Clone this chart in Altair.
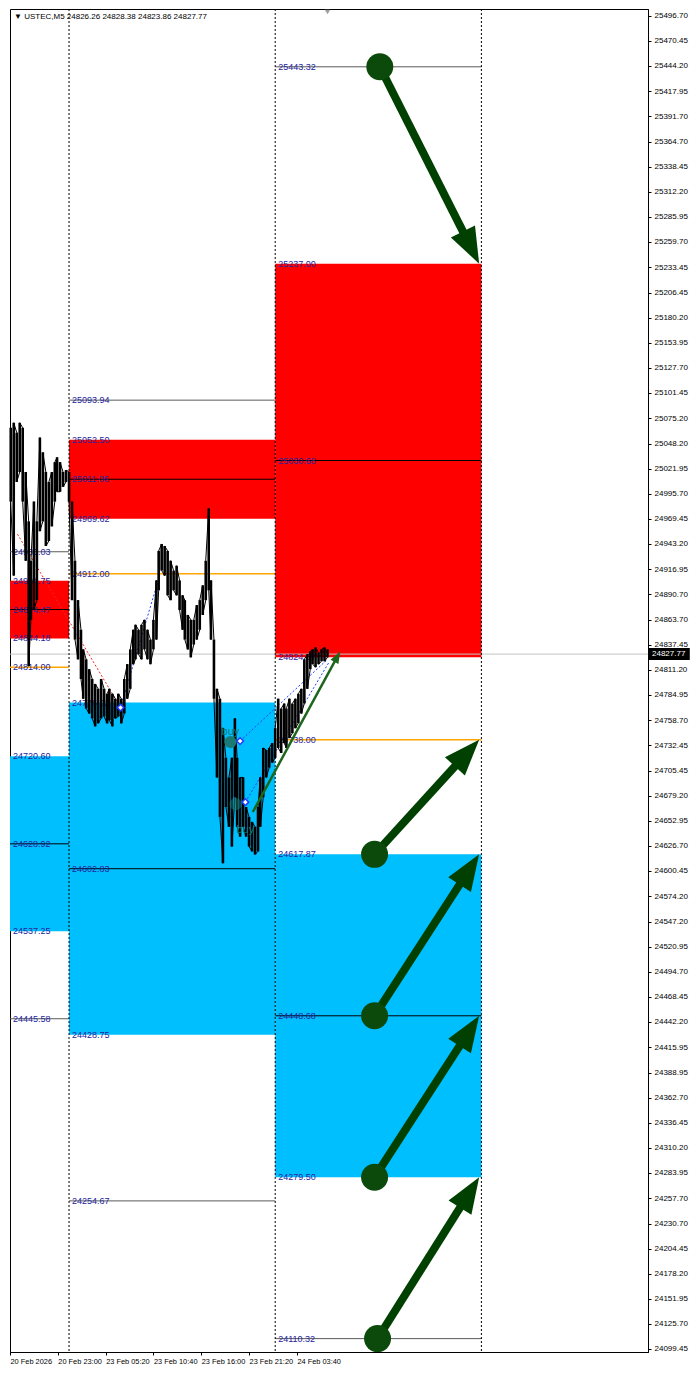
import math
import pandas as pd
import altair as alt

FONT = "Liberation Sans"

# ---------------- data ----------------
title_text = "\u25bc USTEC,M5  24826.26 24828.38 24823.86 24827.77"

x_tick_bars = [0, 64, 128, 192, 256, 320, 384]
x_tick_labels = ["20 Feb 2026", "20 Feb 23:00", "23 Feb 05:20", "23 Feb 10:40",
                 "23 Feb 16:00", "23 Feb 21:20", "24 Feb 03:40"]

y_ticks = [25496.70, 25470.45, 25444.20, 25417.95, 25391.70, 25364.70, 25338.45, 25312.20,
           25285.95, 25259.70, 25233.45, 25206.45, 25180.20, 25153.95, 25127.70, 25101.45,
           25075.20, 25048.20, 25021.95, 24995.70, 24969.45, 24943.20, 24916.95, 24890.70,
           24863.70, 24837.45, 24811.20, 24784.95, 24758.70, 24732.45, 24705.45, 24679.20,
           24652.95, 24626.70, 24600.45, 24574.20, 24547.20, 24520.95, 24494.70, 24468.45,
           24442.20, 24415.95, 24388.95, 24362.70, 24336.45, 24310.20, 24283.95, 24257.70,
           24230.70, 24204.45, 24178.20, 24151.95, 24125.70, 24099.45]

separator_bars = [79, 355, 631]
current_price = 24827.77
last_bar = 425

price_bar = [1, 5, 9, 13, 17, 21, 25, 28, 32, 36, 40, 44, 48, 52, 56, 60, 63, 67, 71, 75,
             79, 83, 87, 91, 95, 98, 102, 106, 110, 114, 118, 122, 126, 130, 133, 137, 141, 145,
             149, 153, 157, 161, 165, 168, 172, 176, 180, 184, 188, 192, 196, 199, 203, 207,
             211, 215, 219, 223, 227, 231, 234, 238, 242, 246, 250, 254, 258, 262, 266, 269,
             273, 277, 281, 285, 289, 293, 297, 301, 304, 308, 312, 316, 320, 324, 328, 332,
             335, 339, 343, 347, 351, 355, 359, 363, 367, 370, 374, 378, 382, 386, 390, 394,
             398, 402, 405, 409, 413, 417, 421, 425]
price_high = [25065.0, 25070.2, 25059.9, 25070.2, 25065.0, 25018.6, 24966.9, 24925.6, 24987.6, 24966.9,
              25054.7, 25039.2, 25018.6, 25008.2, 25018.6, 25028.9, 25034.0, 25028.9, 25018.6, 25020.6,
              25018.6, 24987.6, 24925.6, 24884.3, 24853.3, 24832.7, 24822.3, 24812.0, 24801.7, 24796.5,
              24791.4, 24801.7, 24791.4, 24786.2, 24791.4, 24786.2, 24781.0, 24786.2, 24781.0, 24801.7,
              24817.2, 24832.7, 24853.3, 24858.5, 24853.3, 24858.5, 24863.7, 24853.3, 24843.0, 24863.7,
              24905.0, 24935.9, 24943.2, 24941.1, 24935.9, 24925.6, 24915.3, 24920.4, 24905.0, 24889.4,
              24884.3, 24868.8, 24863.7, 24863.7, 24879.1, 24884.3, 24899.8, 24925.6, 24980.4, 24905.0,
              24843.0, 24791.4, 24781.0, 24750.1, 24719.1, 24698.5, 24719.1, 24760.4, 24719.1, 24698.5,
              24698.5, 24667.5, 24657.1, 24651.9, 24646.8, 24667.5, 24698.5, 24729.4, 24727.3, 24729.4,
              24734.5, 24750.1, 24781.0, 24770.7, 24775.9, 24770.7, 24781.0, 24775.9, 24781.0, 24786.2,
              24791.4, 24822.3, 24827.5, 24830.6, 24832.7, 24834.7, 24829.5, 24832.7, 24834.7, 24832.7]
price_low = [24987.6, 24910.1, 25008.2, 25018.6, 24987.6, 24925.6, 24815.1, 24863.7, 24874.0, 24884.3,
             24956.6, 24966.9, 24941.1, 24946.3, 24961.7, 24987.6, 24997.9, 24997.9, 25003.1, 25008.2,
             24987.6, 24884.3, 24843.0, 24822.3, 24801.7, 24781.0, 24770.7, 24765.5, 24760.4, 24752.1,
             24755.2, 24760.4, 24762.4, 24755.2, 24758.3, 24752.1, 24760.4, 24762.4, 24755.2, 24765.5,
             24781.0, 24791.4, 24817.2, 24822.3, 24827.5, 24822.3, 24832.7, 24822.3, 24817.2, 24832.7,
             24843.0, 24894.6, 24915.3, 24910.1, 24889.4, 24884.3, 24894.6, 24889.4, 24874.0, 24853.3,
             24843.0, 24832.7, 24824.4, 24837.8, 24843.0, 24853.3, 24868.8, 24884.3, 24894.6, 24843.0,
             24781.0, 24698.5, 24657.1, 24608.6, 24667.5, 24646.8, 24626.1, 24677.8, 24646.8, 24636.5,
             24646.8, 24636.5, 24626.1, 24621.0, 24617.8, 24621.0, 24646.8, 24677.8, 24698.5, 24708.8,
             24714.0, 24719.1, 24729.4, 24724.2, 24734.5, 24729.4, 24739.7, 24744.9, 24750.1, 24755.2,
             24765.5, 24775.9, 24791.4, 24812.0, 24817.2, 24814.1, 24817.2, 24820.3, 24820.3, 24824.4]

# supply (red) / demand (blue) zones
zone_start = [0, 0, 79, 79, 355, 355]
zone_end = [79, 79, 355, 355, 631, 631]
zone_top = [24904.75, 24720.60, 25052.50, 24776.92, 25237.00, 24617.87]
zone_bottom = [24844.18, 24537.25, 24969.62, 24428.75, 24824.37, 24279.50]
zone_kind = ["supply", "demand", "supply", "demand", "supply", "demand"]

# horizontal levels per period: [upper ext, supply mid, target, demand mid, lower ext]
level_kinds = ["ext", "mid", "target", "mid", "ext"]
period_start = [0, 79, 355]
period_end = [79, 355, 631]
period_levels = [
    [24935.03, 24874.47, 24814.00, 24628.92, 24445.58],
    [25093.94, 25011.06, 24912.00, 24602.83, 24254.67],
    [25443.32, 25030.68, 24738.00, 24448.68, 24110.32],
]
period_labels = [
    [24935.03, 24904.75, 24874.47, 24844.18, 24814.00, 24720.60, 24628.92, 24537.25, 24445.58],
    [25093.94, 25052.50, 25011.06, 24969.62, 24912.00, 24776.92, 24602.83, 24428.75, 24254.67],
    [25443.32, 25237.00, 25030.68, 24824.37, 24738.00, 24617.87, 24448.68, 24279.50, 24110.32],
]

# zigzag dotted lines
zz_b0 = [10, 148, 308, 315]
zz_p0 = [24953.5, 24771.7, 24736.6, 24672.6]
zz_b1 = [148, 201, 425, 427]
zz_p1 = [24771.7, 24912.0, 24822.3, 24819.2]
zz_color = ["#ff2020", "#2040ff", "#2040ff", "#2040ff"]

diamond_bar = [148, 308, 315]
diamond_price = [24771.7, 24736.6, 24672.6]

buy_circle_bar = [295, 302]
buy_circle_price = [24735.6, 24670.5]
buy_circle_opacity = [1.0, 0.55]
buy_text_bar = [295, 315]
buy_text_price = [24746.5, 24643.7]

trend_b0, trend_p0, trend_b1, trend_p1 = 325, 24662.3, 442, 24830.6

# projection arrows
arrow_from_bar = [495, 488, 488, 488, 492]
arrow_from_price = [25443.32, 24617.87, 24448.68, 24279.50, 24110.32]
arrow_to_bar = [628, 628, 628, 628, 628]
arrow_to_price = [25237.00, 24738.00, 24617.87, 24448.68, 24279.50]

# ---------------- chart setup ----------------
W, H = 638, 1343
X_MIN, X_MAX = 0, 854
Y_MIN, Y_MAX = 24096.3, 25503.9
px_bar = W / (X_MAX - X_MIN)
px_price = H / (Y_MAX - Y_MIN)

xs = alt.Scale(domain=[X_MIN, X_MAX], nice=False, zero=False)
ys = alt.Scale(domain=[Y_MIN, Y_MAX], nice=False, zero=False)

label_expr = "".join(f"datum.value == {b} ? '{l}' : " for b, l in zip(x_tick_bars, x_tick_labels)) + "''"
xaxis = alt.Axis(values=x_tick_bars, labelExpr=label_expr, labelAlign="left", labelFont=FONT,
                 labelFontSize=7.4, labelColor="black", tickSize=3, tickColor="black",
                 domainColor="black", labelPadding=2, grid=False, title=None,
                 labelOverlap=False, labelFlush=False)
yaxis = alt.Axis(orient="right", values=y_ticks, format=".2f", labelFont=FONT, labelFontSize=8,
                 labelColor="black", tickSize=3, tickColor="black", domainColor="black",
                 labelPadding=3, grid=False, title=None, labelOverlap=False, labelFlush=False)


def X(f):
    return alt.X(f"{f}:Q", scale=xs, axis=xaxis)


def Y(f):
    return alt.Y(f"{f}:Q", scale=ys, axis=yaxis)


zone_colors = {"supply": "#ff0000", "demand": "#00bfff"}
zones_df = pd.DataFrame({"b0": zone_start, "b1": zone_end, "p0": zone_top, "p1": zone_bottom,
                         "c": [zone_colors[k] for k in zone_kind]})
zones = alt.Chart(zones_df).mark_rect().encode(
    x=X("b0"), x2="b1:Q", y=Y("p0"), y2="p1:Q", color=alt.Color("c:N", scale=None))

level_colors = {"ext": "#5a5a5a", "mid": "#000000", "target": "#ffa500"}
level_widths = {"ext": 1.0, "mid": 1.0, "target": 1.6}
rows = []
for s, e, lv in zip(period_start, period_end, period_levels):
    for k, p in zip(level_kinds, lv):
        rows.append({"b0": s, "b1": e, "p": p, "c": level_colors[k], "w": level_widths[k]})
levels = alt.Chart(pd.DataFrame(rows)).mark_rule().encode(
    x=X("b0"), x2="b1:Q", y=Y("p"), color=alt.Color("c:N", scale=None),
    strokeWidth=alt.StrokeWidth("w:Q", scale=None))

cur_line = alt.Chart(pd.DataFrame({"p": [current_price]})).mark_rule(
    color="#c4c4c4", strokeWidth=1).encode(y=Y("p"))

seps = alt.Chart(pd.DataFrame({"b": separator_bars})).mark_rule(
    color="#000000", strokeWidth=1, strokeDash=[2, 2]).encode(x=X("b"))

lab_rows = []
for s, lv in zip(period_start, period_labels):
    for p in lv:
        lab_rows.append({"b": s, "p": p, "t": f"{p:.2f}"})
labels = alt.Chart(pd.DataFrame(lab_rows)).mark_text(
    align="left", baseline="middle", dx=3, font=FONT, fontSize=9, color="#25259e").encode(
    x=X("b"), y=Y("p"), text="t:N")

zz = alt.Chart(pd.DataFrame({"b0": zz_b0, "p0": zz_p0, "b1": zz_b1, "p1": zz_p1, "c": zz_color})).mark_rule(
    strokeWidth=1, strokeDash=[2, 2]).encode(
    x=X("b0"), x2="b1:Q", y=Y("p0"), y2="p1:Q", color=alt.Color("c:N", scale=None))

price = alt.Chart(pd.DataFrame({"b": price_bar, "hi": price_high, "lo": price_low})).mark_rule(
    color="#000000", strokeWidth=2.6).encode(x=X("b"), y=Y("lo"), y2="hi:Q")

# continuous jagged path visiting each bar's range (alternating high/low)
path_rows = []
for i, (b, hi, lo) in enumerate(zip(price_bar, price_high, price_low)):
    pair = (hi, lo) if i % 2 == 0 else (lo, hi)
    path_rows.append({"o": 2 * i, "b": b, "p": pair[0]})
    path_rows.append({"o": 2 * i + 1, "b": b, "p": pair[1]})
price_path = alt.Chart(pd.DataFrame(path_rows)).mark_line(
    color="#000000", strokeWidth=1.0).encode(x=X("b"), y=Y("p"), order="o:Q")

diamonds = alt.Chart(pd.DataFrame({"b": diamond_bar, "p": diamond_price})).mark_point(
    shape="diamond", filled=True, fill="white", stroke="#1e3cff", strokeWidth=1.5, size=45,
    opacity=1).encode(x=X("b"), y=Y("p"))

buy_c = alt.Chart(pd.DataFrame({"b": buy_circle_bar, "p": buy_circle_price, "o": buy_circle_opacity})).mark_circle(
    color="#1b7a74", size=150).encode(x=X("b"), y=Y("p"), opacity=alt.Opacity("o:Q", scale=None))
buy_t = alt.Chart(pd.DataFrame({"b": buy_text_bar, "p": buy_text_price, "t": ["buy", "buy"]})).mark_text(
    font=FONT, fontSize=11, color="#157a72", baseline="middle").encode(x=X("b"), y=Y("p"), text="t:N")


def arrow_geom(b0, p0, b1, p1, back_px):
    dx = (b1 - b0) * px_bar
    dy = -(p1 - p0) * px_price
    L = math.hypot(dx, dy)
    ux, uy = dx / L, dy / L
    ang = math.degrees(math.atan2(ux, -uy)) % 360
    sb = b1 - ux * back_px / px_bar
    sp = p1 + uy * back_px / px_price
    return ang, sb, sp


HEAD = "M0,0L0.75,2L-0.75,2Z"

t_ang, t_sb, t_sp = arrow_geom(trend_b0, trend_p0, trend_b1, trend_p1, 6)
trend = alt.Chart(pd.DataFrame({"b0": [trend_b0], "p0": [trend_p0], "b1": [t_sb], "p1": [t_sp]})).mark_rule(
    color="#1d661d", strokeWidth=2.5).encode(x=X("b0"), x2="b1:Q", y=Y("p0"), y2="p1:Q")
trend_head = alt.Chart(pd.DataFrame({"b": [trend_b1], "p": [trend_p1], "a": [t_ang]})).mark_point(
    shape=HEAD, filled=True, color="#1d661d", size=144, opacity=1).encode(
    x=X("b"), y=Y("p"), angle=alt.Angle("a:Q", scale=None))

arows = []
for b0, p0, b1, p1 in zip(arrow_from_bar, arrow_from_price, arrow_to_bar, arrow_to_price):
    ang, sb, sp = arrow_geom(b0, p0, b1, p1, 28)
    arows.append({"b0": b0, "p0": p0, "b1": b1, "p1": p1, "sb": sb, "sp": sp, "a": ang})
adf = pd.DataFrame(arows)
shafts = alt.Chart(adf).mark_rule(color="#004000", strokeWidth=8, strokeCap="butt").encode(
    x=X("b0"), x2="sb:Q", y=Y("p0"), y2="sp:Q")
circles = alt.Chart(adf).mark_circle(color="#0b4a0b", size=729, opacity=1).encode(x=X("b0"), y=Y("p0"))
heads = alt.Chart(adf).mark_point(shape=HEAD, filled=True, color="#004000", size=1296, opacity=1).encode(
    x=X("b1"), y=Y("p1"), angle=alt.Angle("a:Q", scale=None))

cur_box = alt.Chart(pd.DataFrame({"p": [current_price]})).mark_point(
    shape="M0,-1L6.8,-1L6.8,1L0,1Z", filled=True, color="#000000", size=144, opacity=1).encode(
    x=alt.value(W + 1), y=Y("p"))
cur_txt = alt.Chart(pd.DataFrame({"p": [current_price], "t": [f"{current_price:.2f}"]})).mark_text(
    align="left", baseline="middle", font=FONT, fontSize=8, color="white").encode(
    x=alt.value(W + 4), y=Y("p"), text="t:N")

shift_mark = alt.Chart(pd.DataFrame({"b": [last_bar]})).mark_point(
    shape="triangle-down", filled=True, color="#a0a0a0", size=30, opacity=1).encode(
    x=X("b"), y=alt.value(3))

title = alt.Chart(pd.DataFrame({"t": [title_text]})).mark_text(
    align="left", baseline="middle", font=FONT, fontSize=8, color="black").encode(
    x=alt.value(4), y=alt.value(8), text="t:N")

chart = alt.layer(
    zones, levels, cur_line, seps, labels, zz, price, price_path, diamonds, buy_c, buy_t,
    trend, trend_head, shafts, circles, heads, cur_box, cur_txt, shift_mark, title
).properties(width=W, height=H, padding=0, background="white").configure_view(
    stroke="#000000", strokeWidth=1)

chart.save("out.html", embed_options={"renderer": "svg", "actions": False})
